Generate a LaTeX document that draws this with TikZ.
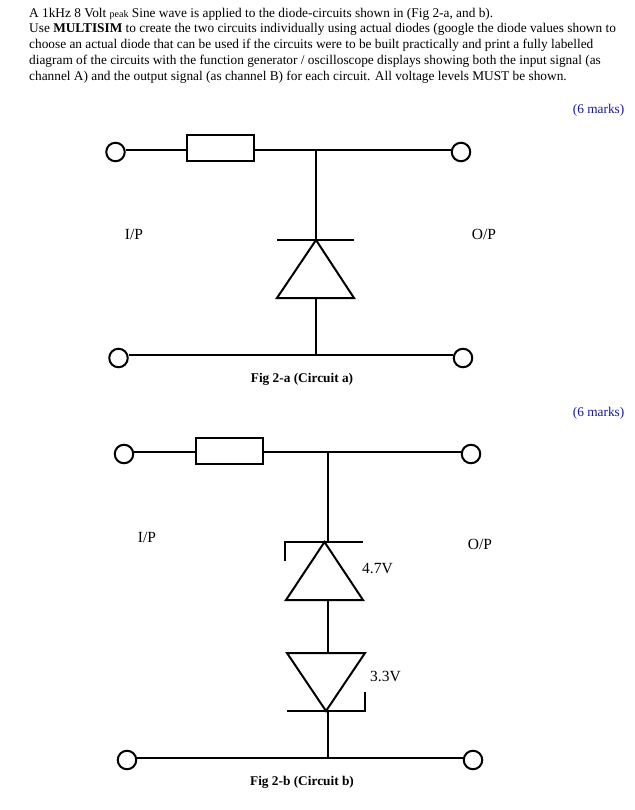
\documentclass[tikz,border=0pt]{standalone}
\usepackage{fontspec}
\setmainfont{Liberation Serif}
\definecolor{mk}{RGB}{20,20,170}
\tikzset{
 x=1pt,y=-1pt,
 wire/.style={line width=2pt,black},
 term/.style={circle,draw,line width=2pt,minimum size=18.5pt,inner sep=0pt,fill=white},
 res/.style={rectangle,draw,line width=2pt,minimum width=67pt,minimum height=26pt,inner sep=0pt,fill=white},
 txt/.style={inner sep=0pt,anchor=base west,font=\fontsize{13.33}{13.33}\selectfont},
 lab/.style={inner sep=0pt,anchor=base,font=\fontsize{15.5}{15.5}\selectfont},
 figcap/.style={inner sep=0pt,anchor=base,font=\fontsize{13.33}{13.33}\selectfont\bfseries},
 mks/.style={inner sep=0pt,anchor=base east,text=mk,font=\fontsize{13.33}{13.33}\selectfont},
}
\begin{document}
\begin{tikzpicture}
\useasboundingbox (0,0) rectangle (634,810);
\node[txt] (t1) at (29,17.5) {A 1kHz 8 Volt {\fontsize{10}{10}\selectfont peak} Sine wave is applied to the diode-circuits shown in (Fig 2-a, and b).};
\node[txt] (t2) at (29,33) {Use \textbf{MULTISIM} to create the two circuits individually using actual diodes (google the diode values shown to};
\node[txt] (t3) at (29,49) {choose an actual diode that can be used if the circuits were to be built practically and print a fully labelled};
\node[txt] (t4) at (29,65) {diagram of the circuits with the function generator / oscilloscope displays showing both the input signal (as};
\node[txt] (t5) at (29,81) {channel A) and the output signal (as channel B) for each circuit.  All voltage levels MUST be shown.};
\node[mks] (m1) at (624.5,113.5) {(6 marks)};
\node[mks] (m2) at (624.5,416.5) {(6 marks)};
% circuit a
\node[term] (a1) at (115.5,152) {};
\node[term] (a2) at (461,152) {};
\node[term] (a3) at (118.5,358) {};
\node[term] (a4) at (463,358) {};
\node[res] (ra) at (220.5,148.5) {};
\coordinate (ja) at (316,150);
\coordinate (jb) at (316,354.7);
\coordinate (ca) at (316,240);
\coordinate (ba) at (316,298);
\coordinate (bal) at (277,298);
\coordinate (bar) at (354,298);
\coordinate (cal) at (277,240);
\coordinate (car) at (354,240);
\draw[wire] (a1.east |- ja) -- (ra.west |- ja);
\draw[wire] (ra.east |- ja) -- (a2.west |- ja);
\draw[wire] (ja) -- (ca);
\draw[wire] (cal) -- (car);
\draw[wire] (ca) -- (bal) -- (bar) -- cycle;
\draw[wire] (ba) -- (jb);
\draw[wire] (a3.east |- jb) -- (a4.west |- jb);
\node[lab] (ipa) at (134,239) {I/P};
\node[lab] (opa) at (484,240) {O/P};
\node[figcap] (fa) at (302,382) {Fig 2-a (Circuit a)};
% circuit b
\node[term] (b1) at (124,454) {};
\node[term] (b2) at (471,454) {};
\node[term] (b3) at (127,760) {};
\node[term] (b4) at (473,760) {};
\node[res] (rb) at (229.5,450.7) {};
\coordinate (jc) at (328,451.7);
\coordinate (jd) at (328,757.7);
\coordinate (d1a) at (324.5,542);
\coordinate (d1l) at (286,600);
\coordinate (d1r) at (363,600);
\coordinate (zl0) at (285,561);
\coordinate (zl1) at (285,542);
\coordinate (zl2) at (363,542);
\coordinate (d2l) at (287,653);
\coordinate (d2r) at (365,653);
\coordinate (d2c) at (326,711);
\coordinate (zr0) at (365,692);
\coordinate (zr1) at (365,711);
\coordinate (zr2) at (287,711);
\coordinate (d1t) at (328,542);
\coordinate (d1m) at (328,600);
\coordinate (d2m) at (328,653);
\coordinate (d2b) at (328,711);
\draw[wire] (b1.east |- jc) -- (rb.west |- jc);
\draw[wire] (rb.east |- jc) -- (b2.west |- jc);
\draw[wire] (jc) -- (d1t);
\draw[wire] (zl0) -- (zl1) -- (zl2);
\draw[wire] (d1a) -- (d1l) -- (d1r) -- cycle;
\draw[wire] (d1m) -- (d2m);
\draw[wire] (d2l) -- (d2r) -- (d2c) -- cycle;
\draw[wire] (zr0) -- (zr1) -- (zr2);
\draw[wire] (d2b) -- (jd);
\draw[wire] (b3.east |- jd) -- (b4.west |- jd);
\node[lab] (ipb) at (147,542) {I/P};
\node[lab] (opb) at (480,549) {O/P};
\node[lab] (v1) at (377.5,573) {4.7V};
\node[lab] (v2) at (385.5,681) {3.3V};
\node[figcap] (fb) at (302,785) {Fig 2-b (Circuit b)};
\end{tikzpicture}
\end{document}
